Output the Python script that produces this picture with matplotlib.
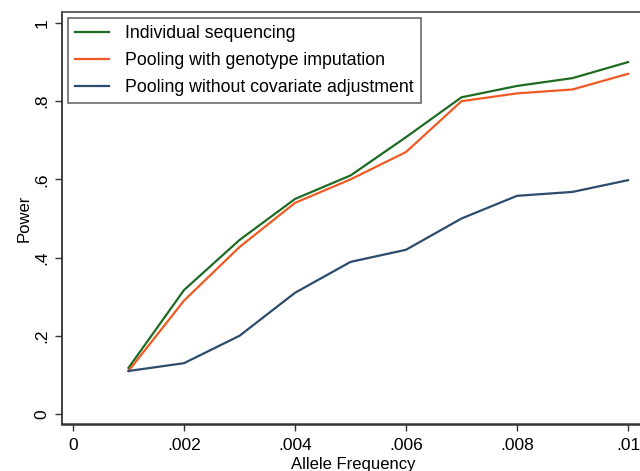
import numpy as np
import matplotlib.pyplot as plt

plt.rcParams['font.family'] = ['Liberation Sans', 'DejaVu Sans']

freq = [0.001, 0.002, 0.003, 0.004, 0.005, 0.006, 0.007, 0.008, 0.009, 0.010]
individual = [0.118, 0.317, 0.445, 0.55, 0.61, 0.708, 0.81, 0.839, 0.859, 0.90]
pool_imput = [0.11, 0.29, 0.427, 0.54, 0.60, 0.67, 0.80, 0.82, 0.83, 0.87]
pool_nocov = [0.11, 0.13, 0.20, 0.31, 0.389, 0.42, 0.50, 0.558, 0.568, 0.598]

xticks = [0, 0.002, 0.004, 0.006, 0.008, 0.010]
xlabels = ['0', '.002', '.004', '.006', '.008', '.01']
yticks = [0, 0.2, 0.4, 0.6, 0.8, 1.0]
ylabels = ['0', '.2', '.4', '.6', '.8', '1']

fig = plt.figure(figsize=(6.4, 4.71), dpi=100)
ax = fig.add_axes([62/640, 47/471, 583/640, 412/471])

ax.plot(freq, individual, color='#1e6b23', lw=1.6, label='Individual sequencing')
ax.plot(freq, pool_imput, color='#ef5a24', lw=1.6, label='Pooling with genotype imputation')
ax.plot(freq, pool_nocov, color='#2b4c6c', lw=1.6, label='Pooling without covariate adjustment')

ax.set_xlim(-11/55500, 572/55500)
ax.set_ylim(-10/391, 402/391)
ax.set_xticks(xticks)
ax.set_xticklabels(xlabels)
ax.set_yticks(yticks)
ax.set_yticklabels(ylabels, rotation=90, va='center')
ax.tick_params(direction='out', length=5, width=1, colors='#333333', labelsize=12.5,
               labelcolor='black')
ax.tick_params(axis='x', pad=5)
ax.tick_params(axis='y', pad=4)
for s in ax.spines.values():
    s.set_color('#555555')
    s.set_linewidth(1.3)
ax.spines['left'].set_color('#333333')
ax.spines['bottom'].set_color('#333333')
ax.spines['bottom'].set_linewidth(1.8)

ax.set_xlabel('Allele Frequency', fontsize=12, va='center')
ax.xaxis.set_label_coords((353 - 62) / 583, -40 / 412)
ax.set_ylabel('Power', fontsize=12, labelpad=2)

leg = ax.legend(loc='upper left', bbox_to_anchor=(68/640, 1 - 18/471),
                bbox_transform=fig.transFigure, fontsize=12.8, frameon=True,
                fancybox=False, handlelength=1.9, handletextpad=0.9,
                borderpad=0.42, labelspacing=0.55, borderaxespad=0)
leg.get_frame().set_edgecolor('#444444')
leg.get_frame().set_linewidth(1.2)

fig.savefig('out.png', dpi=100)
